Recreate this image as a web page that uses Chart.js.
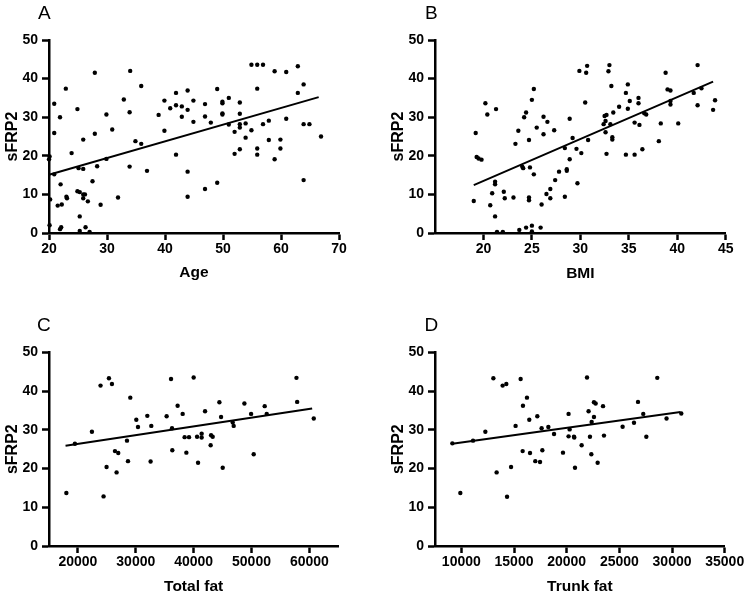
<!DOCTYPE html>
<html><head><meta charset="utf-8">
<script src="https://cdn.jsdelivr.net/npm/chart.js@4.4.1/dist/chart.umd.min.js"></script>
<style>
html,body{margin:0;padding:0;background:#fff;width:748px;height:595px;overflow:hidden;position:relative;}
canvas{position:absolute;}
</style></head><body>
<canvas id="cA" width="374" height="300" style="left:0;top:0;width:374px;height:300px"></canvas>
<canvas id="cB" width="374" height="300" style="left:374px;top:0;width:374px;height:300px"></canvas>
<canvas id="cC" width="374" height="300" style="left:0;top:300px;width:374px;height:300px"></canvas>
<canvas id="cD" width="374" height="300" style="left:374px;top:300px;width:374px;height:300px"></canvas>
<script>
// ---------- DATA ----------
const yTicks = [0, 10, 20, 30, 40, 50];
const yTitle = 'sFRP2';

// Panel A: Age
const ageTicks = [20, 30, 40, 50, 60, 70];
const ageX = [20.9,20.9,20.1,20.0,20.9,20.2,20.1,21.5,21.9,22.0,22.2,21.9,22.1,22.9,23.0,23.1,23.9,24.9,24.9,25.3,25.3,25.3,25.1,25.9,25.9,25.9,26.2,25.9,26.3,26.7,27.5,27.9,27.9,28.3,28.9,29.9,29.9,30.9,31.9,32.9,34.0,33.9,33.9,35.9,34.9,35.9,36.9,38.9,39.9,39.9,41.9,40.9,41.9,41.9,42.9,42.9,43.9,43.9,43.9,43.9,44.9,44.9,27.0,
  46.9,46.9,47.9,46.9,49.0,49.0,49.9,49.9,49.9,49.9,51.0,51.0,52.0,52.0,52.9,52.9,52.9,52.9,52.9,53.9,53.9,54.9,54.9,55.9,55.9,55.9,55.9,56.9,56.9,57.9,57.9,58.9,58.9,59.9,59.9,60.9,60.9,62.9,62.9,63.9,63.9,64.9,63.9,66.9];
const ageY = [33.5,25.9,19.8,19.1,15.2,8.7,2.0,7.1,30.0,12.6,7.4,1.0,1.5,37.4,9.4,9.0,20.7,32.1,10.8,10.6,4.3,0.5,16.8,24.2,16.6,10.0,10.0,9.0,1.5,8.2,13.4,41.5,25.7,17.3,7.3,30.7,19.2,26.8,9.2,34.6,42.0,31.3,17.2,38.1,23.8,23.1,16.1,30.6,34.3,26.5,36.3,32.3,33.1,20.3,32.8,30.1,36.9,31.9,15.9,9.4,34.3,28.8,0.3,
  33.4,30.2,28.6,11.4,37.3,13.0,34.0,33.6,31.0,30.7,35.0,28.1,26.2,20.5,33.8,30.9,28.2,27.3,21.7,28.4,24.7,43.6,26.6,43.6,37.4,21.9,20.3,43.6,28.2,29.1,24.1,41.9,19.1,24.2,21.9,41.7,29.6,43.2,36.3,38.5,28.2,28.2,13.7,25.0];
const ageLineX = [20, 66.5];
const ageLineY = [15.1, 35.2];

// Panel B: BMI
const bmiTicks = [20, 25, 30, 35, 40, 45];
const bmiX = [19.0,19.2,19.3,19.5,19.8,20.2,20.4,20.9,20.7,21.2,21.2,21.2,21.3,21.4,22.0,22.1,22.2,23.1,23.3,23.6,23.7,24.2,24.4,24.0,24.1,24.4,24.7,24.7,24.7,24.8,25.0,25.0,25.0,25.2,25.2,25.5,25.9,26.0,26.2,26.2,26.5,26.6,26.9,26.9,27.3,27.4,27.8,
  28.4,28.4,28.6,28.6,28.9,28.9,29.2,29.6,29.7,29.9,30.1,30.5,30.6,30.7,30.8,32.4,32.5,32.7,32.6,32.6,32.7,32.9,33.0,33.1,33.2,33.4,33.3,33.3,34.0,34.7,34.9,34.9,35.1,34.7,35.6,35.6,36.0,36.0,36.1,36.4,36.6,36.8,38.1,38.3,38.8,39.0,39.3,39.3,39.3,40.1,41.7,42.1,42.1,42.5,43.7,43.9];
const bmiY = [8.3,25.9,19.7,19.3,19.0,33.6,30.7,10.3,7.2,13.3,12.6,4.3,32.1,0.3,0.3,10.7,9.0,9.2,23.1,26.5,0.8,30.0,31.2,17.2,16.8,1.4,24.1,9.2,8.5,17.0,34.5,1.9,0.4,37.3,15.2,27.3,1.4,7.4,30.1,25.6,10.1,28.8,11.4,9.0,26.6,13.7,15.9,
  22.0,9.4,16.5,16.1,29.6,19.1,24.6,21.8,12.9,42.0,20.7,33.8,41.5,43.3,24.1,28.2,30.3,30.6,29.0,26.1,20.5,41.9,43.5,28.2,38.1,31.2,24.8,24.2,32.7,36.3,38.5,32.2,34.2,20.3,28.6,20.3,35.0,33.6,28.0,21.7,31.0,30.7,23.8,28.4,41.5,37.2,36.9,34.2,33.3,28.4,36.3,43.5,33.1,37.5,31.9,34.4];
const bmiLineX = [19.0, 43.7];
const bmiLineY = [12.4, 39.2];

// Panel C: Total fat
const totalTicks = [20000, 30000, 40000, 50000, 60000];
const totalX = [18000,19480,22420,23910,24430,24950,25360,25880,26400,26970,26680,28480,28650,29050,30090,30380,31990,32560,32680,35330,36090,36260,36310,37230,38100,38440,39200,38740,40000,40590,40760,41380,41380,41970,42940,43010,43290,44450,44740,45020,46750,46920,48770,49930,50380,52280,52630,57770,57890,60760];
const totalY = [13.7,26.4,29.5,41.4,12.8,20.4,43.3,41.8,24.5,24.0,19.0,27.2,21.9,38.3,32.6,30.7,33.6,21.8,31.0,33.5,43.1,30.4,24.7,36.2,34.1,28.1,28.1,24.1,43.5,28.2,21.5,29.0,28.0,34.8,26.0,28.6,28.2,37.1,33.3,20.2,31.9,31.0,36.8,34.1,23.7,36.1,34.1,43.4,37.2,32.9];
const totalLineX = [17860, 60480];
const totalLineY = [25.9, 35.5];

// Panel D: Trunk fat
const trunkTicks = [10000, 15000, 20000, 25000, 30000, 35000];
const trunkX = [9146,9905,11110,12280,13040,13350,13920,14270,14340,14720,15150,15630,15820,15850,16230,16450,16520,17020,17210,17470,17620,17690,18260,18800,19650,20180,20280,20180,20690,20720,20790,21420,21930,22080,22210,22340,22370,22590,22750,22590,22940,23450,23540,25310,26390,26770,27270,27560,28600,29480,30880];
const trunkY = [26.5,13.7,27.2,29.5,43.3,19.0,41.4,41.8,12.7,20.4,31.0,43.1,24.5,36.2,38.3,32.6,24.0,21.9,33.5,21.7,30.4,24.7,30.7,28.9,24.1,34.1,30.1,28.3,28.2,28.0,20.2,26.0,43.5,34.8,28.2,23.7,32.0,37.1,36.8,33.3,21.5,36.1,28.5,30.8,31.8,37.2,34.1,28.2,43.4,32.9,34.2];
const trunkLineX = [9146, 30810];
const trunkLineY = [26.4, 34.6];

// ---------- RENDER ----------
const FONT = "'Liberation Sans', Arial, Helvetica, sans-serif";
const letterPlugin = {
  id: 'panelLetter',
  afterDraw(chart, args, opts) {
    const c = chart.ctx;
    c.save();
    c.fillStyle = '#000';
    c.font = '19px ' + FONT;
    c.textAlign = 'left';
    c.textBaseline = 'alphabetic';
    c.fillText(opts.text, opts.x, opts.y);
    c.restore();
  }
};

function panel(id, p) {
  const pts = p.xs.map((x, i) => ({x: x, y: p.ys[i]}));
  const line = p.lx.map((x, i) => ({x: x, y: p.ly[i]}));
  const axisCommon = {
    grid: {drawOnChartArea: false, drawTicks: true, tickLength: 7, tickWidth: 2.5, tickColor: '#000', color: '#000'},
    border: {display: true, color: '#000', width: 2.5}
  };
  new Chart(document.getElementById(id), {
    type: 'scatter',
    data: {datasets: [
      {data: pts, pointRadius: 2.2, pointBackgroundColor: '#000', pointBorderWidth: 0, pointBorderColor: '#000', clip: false},
      {data: line, showLine: true, pointRadius: 0, borderColor: '#000', borderWidth: 2, clip: false}
    ]},
    options: {
      responsive: false, animation: false, events: [],
      layout: {padding: {left: p.padL, top: p.padT, right: p.padR, bottom: 0}},
      plugins: {legend: {display: false}, tooltip: {enabled: false},
        panelLetter: {text: p.letter, x: p.letterX, y: p.letterY}},
      scales: {
        x: Object.assign({}, axisCommon, {
          type: 'linear', min: p.xMin, max: p.xMax,
          afterBuildTicks: s => { s.ticks = p.xTicks.map(v => ({value: v})); },
          afterFit: s => { s.height = p.xH; },
          ticks: {callback: v => String(v), font: {family: FONT, size: 14, weight: 'bold'}, color: '#000', padding: 1, autoSkip: false, maxRotation: 0},
          title: {display: true, text: p.xTitle, color: '#000', font: {family: FONT, size: 15.5, weight: 'bold'}, padding: {top: 0, bottom: p.xTitlePad}}
        }),
        y: Object.assign({}, axisCommon, {
          type: 'linear', min: 0, max: 50,
          afterBuildTicks: s => { s.ticks = yTicks.map(v => ({value: v})); },
          afterFit: s => { s.width = 49; },
          ticks: {callback: v => String(v), font: {family: FONT, size: 14, weight: 'bold'}, color: '#000', padding: 4, autoSkip: false},
          title: {display: true, text: yTitle, color: '#000', font: {family: FONT, size: 16, weight: 'bold'}, padding: {top: 3.2, bottom: 0}}
        })
      }
    },
    plugins: [letterPlugin]
  });
}

panel('cA', {xs: ageX, ys: ageY, lx: ageLineX, ly: ageLineY, xMin: 20, xMax: 70, xTicks: ageTicks, xTitle: 'Age',
  padL: 0, padT: 40, padR: 35, xH: 67, xTitlePad: 17.7, letter: 'A', letterX: 38, letterY: 19});
panel('cB', {xs: bmiX, ys: bmiY, lx: bmiLineX, ly: bmiLineY, xMin: 15, xMax: 45, xTicks: bmiTicks, xTitle: 'BMI',
  padL: 12, padT: 40, padR: 22.3, xH: 67, xTitlePad: 17.4, letter: 'B', letterX: 51, letterY: 18.5});
panel('cC', {xs: totalX, ys: totalY, lx: totalLineX, ly: totalLineY, xMin: 15000, xMax: 65000, xTicks: totalTicks, xTitle: 'Total fat',
  padL: 0, padT: 52.3, padR: 35.7, xH: 54, xTitlePad: 4.4, letter: 'C', letterX: 37, letterY: 30.5});
panel('cD', {xs: trunkX, ys: trunkY, lx: trunkLineX, ly: trunkLineY, xMin: 7500, xMax: 35000, xTicks: trunkTicks, xTitle: 'Trunk fat',
  padL: 12, padT: 52.3, padR: 23.3, xH: 54, xTitlePad: 4.4, letter: 'D', letterX: 50.5, letterY: 30.5});
</script>
</body></html>
